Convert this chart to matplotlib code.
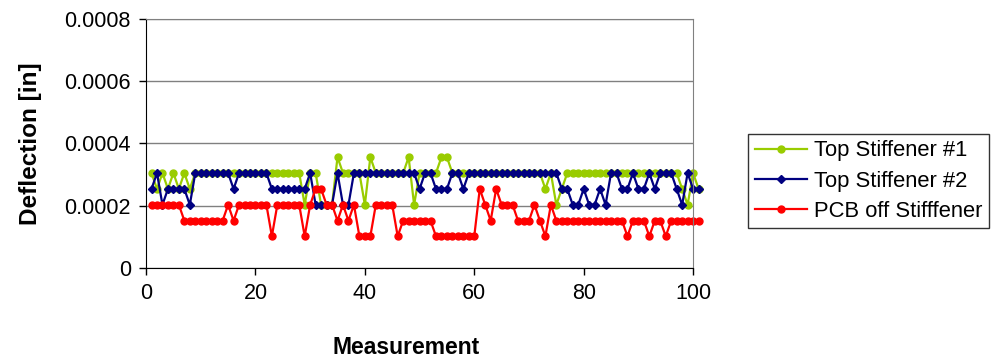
import numpy as np
import matplotlib.pyplot as plt
from matplotlib.ticker import FuncFormatter

plt.rcParams['font.family'] = ['Liberation Sans', 'DejaVu Sans']

# deflection readings in micro-inches, measurements 1..101
top_stiffener_1 = [
    305, 254, 305, 254, 305, 254, 305, 254, 305, 305,
    305, 305, 305, 305, 305, 305, 305, 305, 305, 305,
    305, 305, 305, 305, 305, 305, 305, 305, 203, 305,
    305, 203, 203, 203, 356, 305, 305, 305, 305, 203,
    356, 305, 305, 305, 305, 305, 305, 356, 203, 305,
    305, 305, 305, 356, 356, 305, 305, 305, 305, 305,
    305, 305, 305, 305, 305, 305, 305, 305, 305, 305,
    305, 305, 254, 305, 203, 254, 305, 305, 305, 305,
    305, 305, 305, 305, 305, 305, 305, 305, 305, 305,
    305, 305, 305, 305, 305, 305, 305, 254, 203, 305,
    254,
]
top_stiffener_2 = [
    254, 305, 203, 254, 254, 254, 254, 203, 305, 305,
    305, 305, 305, 305, 305, 254, 305, 305, 305, 305,
    305, 305, 254, 254, 254, 254, 254, 254, 254, 305,
    203, 203, 203, 203, 305, 203, 203, 305, 305, 305,
    305, 305, 305, 305, 305, 305, 305, 305, 305, 254,
    305, 305, 254, 254, 254, 305, 305, 254, 305, 305,
    305, 305, 305, 305, 305, 305, 305, 305, 305, 305,
    305, 305, 305, 305, 305, 254, 254, 203, 203, 254,
    203, 203, 254, 203, 305, 305, 254, 254, 305, 254,
    254, 305, 254, 305, 305, 305, 254, 203, 305, 254,
    254,
]
pcb_off_stiffener = [
    203, 203, 203, 203, 203, 203, 152, 152, 152, 152,
    152, 152, 152, 152, 203, 152, 203, 203, 203, 203,
    203, 203, 102, 203, 203, 203, 203, 203, 102, 203,
    254, 254, 203, 203, 152, 203, 152, 203, 102, 102,
    102, 203, 203, 203, 203, 102, 152, 152, 152, 152,
    152, 152, 102, 102, 102, 102, 102, 102, 102, 102,
    254, 203, 152, 254, 203, 203, 203, 152, 152, 152,
    203, 152, 102, 203, 152, 152, 152, 152, 152, 152,
    152, 152, 152, 152, 152, 152, 152, 102, 152, 152,
    152, 102, 152, 152, 102, 152, 152, 152, 152, 152,
    152,
]
measurement = np.arange(1, len(top_stiffener_1) + 1)

fig = plt.figure(figsize=(10.01, 3.6), dpi=100)
ax = fig.add_axes([0.1459, 0.2556, 0.5465, 0.6917])

series = [
    (top_stiffener_1, 'Top Stiffener #1', '#99CC00', 'o', 5.0),
    (top_stiffener_2, 'Top Stiffener #2', '#000080', 'D', 4.3),
    (pcb_off_stiffener, 'PCB off Stifffener', '#FF0000', 'o', 5.0),
]
for vals, name, col, mk, ms in series:
    ax.plot(measurement, np.array(vals) * 1e-6, color=col, lw=1.6,
            marker=mk, ms=ms, mec=col, mfc=col, label=name, clip_on=False)

ax.set_xlim(0, 100)
ax.set_ylim(0, 0.0008)
ax.set_xticks(np.arange(0, 101, 20))
ax.set_yticks(np.arange(0, 0.00081, 0.0002))
ax.yaxis.set_major_formatter(FuncFormatter(lambda v, p: '0' if v == 0 else f'{v:.4f}'))
ax.yaxis.grid(True, color='#808080', lw=1)
ax.set_axisbelow(True)

for s in ['top', 'right']:
    ax.spines[s].set_color('#808080')
for s in ['left', 'bottom']:
    ax.spines[s].set_color('#000000')
ax.tick_params(direction='out', length=5, width=1, labelsize=15.5, pad=6)

ax.set_ylabel('Deflection [in]', fontsize=17.5, fontweight='bold')
ax.yaxis.set_label_coords(-0.19, 0.5)
ax.set_xlabel('Measurement', fontsize=16.5, fontweight='bold')
ax.xaxis.set_label_coords(0.476, -0.272)

leg = fig.legend(loc='center', bbox_to_anchor=(0.739, 0.375, 0.257, 0.244),
                 fontsize=15.8, frameon=True, fancybox=False, numpoints=1,
                 handlelength=2.4, handletextpad=0.3, labelspacing=0.42,
                 borderpad=0.3, borderaxespad=0)
leg.get_frame().set_edgecolor('#000000')
leg.get_frame().set_linewidth(1)

fig.savefig('out.png', dpi=100)
